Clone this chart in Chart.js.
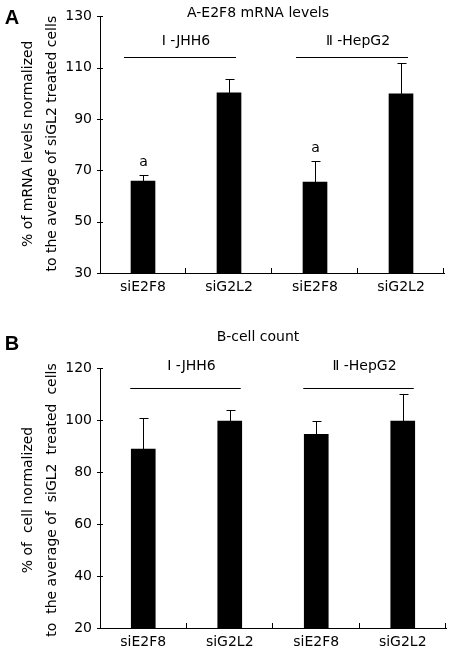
<!DOCTYPE html>
<html lang="en">
<head>
<meta charset="UTF-8">
<title>E2F8 mRNA levels and cell count</title>
<style>
    html, body { margin: 0; padding: 0; background: #fff; }
    #wrap { position: relative; width: 453px; height: 656px; }
    canvas { position: absolute; left: 0; }
    #chartA { top: 0; }
    #chartB { top: 330px; }
</style>
<script src="https://cdn.jsdelivr.net/npm/chart.js"></script>
</head>
<body>
<div id="wrap">
    <canvas id="chartA" width="453" height="330"></canvas>
    <canvas id="chartB" width="453" height="326"></canvas>
</div>
<script>
// datos
const categories = ['siE2F8', 'siG2L2', 'siE2F8', 'siG2L2'];
const groupLabels = ['\u2160 -JHH6', '\u2161 -HepG2'];

const mrnaValues = [65.8, 100.2, 65.4, 99.8];
const mrnaErrors = [2.3, 5.4, 8.1, 11.9];
const mrnaMarks = ['a', '', 'a', ''];
const mrnaTicks = [30, 50, 70, 90, 110, 130];

const cellValues = [88.8, 99.6, 94.5, 99.6];
const cellErrors = [12.0, 4.1, 5.0, 10.5];
const cellMarks = ['', '', '', ''];
const cellTicks = [20, 40, 60, 80, 100, 120];

Chart.defaults.font.family = '"DejaVu Sans", Verdana, sans-serif';
Chart.defaults.font.size = 14;
Chart.defaults.color = '#000';

// barras de error, letras, grupos y titulos
const extrasPlugin = {
    id: 'extras',
    afterDatasetsDraw(chart, args, opts) {
        const ctx = chart.ctx;
        const x = chart.scales.x, y = chart.scales.y;
        const vals = chart.data.datasets[0].data;
        ctx.save();
        ctx.strokeStyle = '#000';
        ctx.lineWidth = 1;
        ctx.fillStyle = '#000';
        ctx.font = '14px "DejaVu Sans"';
        ctx.textAlign = 'center';
        ctx.textBaseline = 'middle';
        vals.forEach((v, i) => {
            const px = Math.round(x.getPixelForValue(i)) + 0.5;
            const yTop = y.getPixelForValue(v);
            const yErr = Math.round(y.getPixelForValue(v + opts.errors[i])) + 0.5;
            ctx.beginPath();
            ctx.moveTo(px, yTop);
            ctx.lineTo(px, yErr);
            ctx.moveTo(px - 4, yErr);
            ctx.lineTo(px + 5, yErr);
            ctx.stroke();
            if (opts.marks[i]) {
                ctx.fillText(opts.marks[i], px, yErr - 13);
            }
        });
        ctx.restore();
    },
    afterDraw(chart, args, opts) {
        const ctx = chart.ctx;
        const x = chart.scales.x, y = chart.scales.y;
        const area = chart.chartArea;
        ctx.save();
        ctx.strokeStyle = '#000';
        ctx.fillStyle = '#000';
        ctx.lineWidth = 1;

        // marcas del eje x hacia arriba
        ctx.beginPath();
        for (let i = 0; i < categories.length; i++) {
            let bx = i < categories.length - 1
                ? (x.getPixelForValue(i) + x.getPixelForValue(i + 1)) / 2
                : area.right;
            bx = Math.round(bx) - 0.5;
            ctx.moveTo(bx, area.bottom);
            ctx.lineTo(bx, area.bottom - 5);
        }
        // marcas del eje y cruzando el eje
        y.ticks.forEach(t => {
            const ty = Math.round(y.getPixelForValue(t.value)) + 0.5;
            ctx.moveTo(area.left - 3, ty);
            ctx.lineTo(area.left + 3, ty);
        });
        ctx.stroke();

        // lineas de grupo
        ctx.font = '14px "DejaVu Sans"';
        ctx.textAlign = 'center';
        ctx.textBaseline = 'middle';
        groupLabels.forEach((g, k) => {
            const c0 = x.getPixelForValue(2 * k);
            const c1 = x.getPixelForValue(2 * k + 1);
            const ly = Math.round(area.top + opts.groupLineDy) + 0.5;
            ctx.beginPath();
            ctx.moveTo(c0 + opts.groupLeft, ly);
            ctx.lineTo(c1 + opts.groupRight, ly);
            ctx.stroke();
            ctx.fillText(g, (c0 + c1) / 2 + opts.labelShift, area.top + opts.groupTextDy);
        });

        // titulo
        ctx.fillText(opts.title, 258, opts.titleY);

        // titulo del eje y en dos lineas
        const cy = (area.top + area.bottom) / 2 + opts.yTitleShift;
        ctx.save();
        ctx.translate(28, cy);
        ctx.rotate(-Math.PI / 2);
        ctx.fillText(opts.yTitle[0], 0, 0);
        ctx.restore();
        ctx.save();
        ctx.translate(52, cy);
        ctx.rotate(-Math.PI / 2);
        ctx.fillText(opts.yTitle[1], 0, 0);
        ctx.restore();

        // letra del panel
        ctx.font = 'bold 20px "Liberation Sans", Arial, sans-serif';
        ctx.fillText(opts.panel, 12, opts.panelY);
        ctx.restore();
    }
};

function makeChart(id, values, errors, marks, tickList, extras, layout) {
    return new Chart(document.getElementById(id), {
        type: 'bar',
        data: {
            labels: categories,
            datasets: [{
                data: values,
                backgroundColor: '#000',
                borderWidth: 0,
                barThickness: 24
            }]
        },
        options: {
            responsive: false,
            animation: false,
            devicePixelRatio: 1,
            layout: { padding: { top: layout.top, right: layout.right, left: 0, bottom: 0 } },
            plugins: {
                legend: { display: false },
                tooltip: { enabled: false },
                extras: Object.assign({ errors: errors, marks: marks }, extras)
            },
            scales: {
                x: {
                    offset: true,
                    grid: { display: false, drawTicks: false },
                    border: { display: true, color: '#000', width: 1 },
                    ticks: { padding: 6, maxRotation: 0, autoSkip: false, font: { size: 14 } },
                    afterFit: s => { s.height = layout.xHeight; }
                },
                y: {
                    min: tickList[0],
                    max: tickList[tickList.length - 1],
                    grid: { display: false, drawTicks: false },
                    border: { display: true, color: '#000', width: 1 },
                    ticks: { padding: 8, font: { size: 14 } },
                    afterBuildTicks: s => { s.ticks = tickList.map(v => ({ value: v })); },
                    afterFit: s => { s.width = 100; }
                }
            }
        },
        plugins: [extrasPlugin]
    });
}

makeChart('chartA', mrnaValues, mrnaErrors, mrnaMarks, mrnaTicks, {
    panel: 'A', panelY: 18,
    title: 'A-E2F8 mRNA levels', titleY: 13,
    yTitle: ['% of mRNA levels normalized', 'to the average of siGL2 treated cells'],
    yTitleShift: -1,
    groupLineDy: 41, groupTextDy: 25, groupLeft: -19, groupRight: 7, labelShift: 0
}, { top: 12, right: 9, xHeight: 57 });

makeChart('chartB', cellValues, cellErrors, cellMarks, cellTicks, {
    panel: 'B', panelY: 14,
    title: 'B-cell count', titleY: 7,
    yTitle: ['% of  cell normalized', 'to  the average of  siGL2  treated  cells'],
    yTitleShift: 2,
    groupLineDy: 20, groupTextDy: -2, groupLeft: -13, groupRight: 11, labelShift: 5
}, { top: 38, right: 7, xHeight: 28 });
</script>
</body>
</html>
